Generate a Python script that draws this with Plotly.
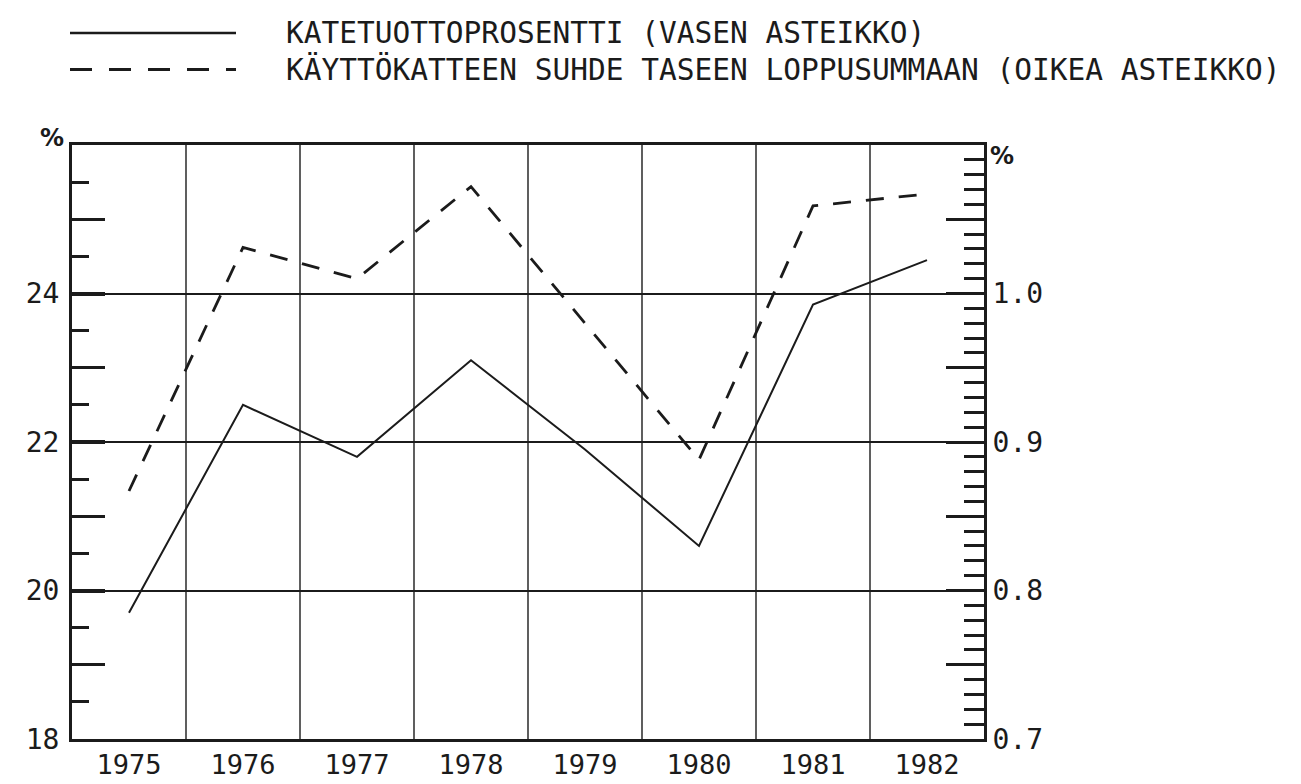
import plotly.graph_objects as go

# ---- data ----
years = ["1975", "1976", "1977", "1978", "1979", "1980", "1981", "1982"]
katetuottoprosentti = [19.7, 22.5, 21.8, 23.1, 21.9, 20.6, 23.85, 24.45]      # left scale, %
kayttokate_suhde = [0.867, 1.031, 1.010, 1.072, 0.980, 0.888, 1.059, 1.067]   # right scale, %
left_ticks = [18, 20, 22, 24]
left_tick_text = ["18", "20", "22", "24"]
left_odd_ticks = [19, 21, 23, 25]
right_ticks = [0.7, 0.8, 0.9, 1.0]
right_tick_text = ["0.7", "0.8", "0.9", "1.0"]
right_half_ticks = [0.75, 0.85, 0.95, 1.05]
legend_labels = [
    "KATETUOTTOPROSENTTI (VASEN ASTEIKKO)",
    "KÄYTTÖKATTEEN SUHDE TASEEN LOPPUSUMMAAN (OIKEA ASTEIKKO)",
]
unit_label = "%"

# ---- layout geometry (pixels) ----
W, H = 1301, 784
L, R, T, B = 64, 976, 137, 742
FONT = "DejaVu Sans Mono"
INK = "#1b1b1b"
DASH = "18px,15px"


def px(xp):
    return (xp - L) / (R - L)


def py(yp):
    return (B - yp) / (B - T)


xs = list(range(len(years)))

fig = go.Figure()
fig.add_trace(go.Scatter(x=xs, y=katetuottoprosentti, mode="lines", yaxis="y",
                         line=dict(color=INK, width=2), showlegend=False, hoverinfo="skip"))
fig.add_trace(go.Scatter(x=xs, y=kayttokate_suhde, mode="lines", yaxis="y2",
                         line=dict(color=INK, width=2.8, dash=DASH), showlegend=False, hoverinfo="skip"))
# invisible carrier for the odd-integer tick axis
fig.add_trace(go.Scatter(x=xs, y=katetuottoprosentti, mode="lines", yaxis="y3",
                         line=dict(color="rgba(0,0,0,0)", width=0), showlegend=False, hoverinfo="skip"))

# vertical grid lines at the category boundaries
for i in range(len(years) - 1):
    fig.add_shape(type="line", xref="x", yref="paper", x0=i + 0.5, x1=i + 0.5, y0=0, y1=1,
                  line=dict(color=INK, width=1.4), layer="below")

# right axis tick set
r_vals = right_ticks + right_half_ticks + [1.1]
r_text = right_tick_text + [""] * len(right_half_ticks) + [""]

tickfont = dict(family=FONT, size=28, color=INK)

fig.update_layout(
    width=W, height=H,
    margin=dict(l=L, r=W - R, t=T, b=H - B),
    paper_bgcolor="white", plot_bgcolor="white",
    showlegend=False,
    xaxis=dict(range=[-0.5, len(years) - 0.5], tickmode="array", tickvals=xs, ticktext=years,
               showgrid=False, zeroline=False, showline=True, linewidth=3, linecolor=INK,
               mirror=True, ticks="", tickfont=dict(family=FONT, size=27, color=INK),
               ticklabelstandoff=0),
    yaxis=dict(range=[18, 26], tickmode="array", tickvals=left_ticks, ticktext=left_tick_text,
               showgrid=True, gridcolor=INK, gridwidth=1.8, zeroline=False,
               showline=True, linewidth=3, linecolor=INK,
               ticks="inside", ticklen=33, tickwidth=3.5, tickcolor=INK,
               minor=dict(dtick=0.5, tick0=18, ticks="inside", ticklen=17, tickwidth=3,
                          tickcolor=INK, showgrid=False),
               tickfont=tickfont, ticklabelstandoff=4),
    yaxis3=dict(range=[18, 26], overlaying="y", side="left", tickmode="array",
                tickvals=left_odd_ticks, showticklabels=False, showgrid=False, zeroline=False,
                showline=False, ticks="inside", ticklen=33, tickwidth=3, tickcolor=INK),
    yaxis2=dict(range=[0.7, 1.1], overlaying="y", side="right", tickmode="array",
                tickvals=r_vals, ticktext=r_text, showgrid=False, zeroline=False,
                showline=True, linewidth=3, linecolor=INK,
                ticks="inside", ticklen=38, tickwidth=3, tickcolor=INK,
                minor=dict(dtick=0.01, tick0=0.7, ticks="inside", ticklen=20, tickwidth=2.6,
                           tickcolor=INK, showgrid=False),
                tickfont=tickfont, ticklabelstandoff=0),
)

# legend drawn as a key above the chart
fig.add_shape(type="line", xref="paper", yref="paper", x0=px(62), x1=px(228), y0=py(23), y1=py(23),
              line=dict(color=INK, width=2.4))
fig.add_shape(type="line", xref="paper", yref="paper", x0=px(62), x1=px(228), y0=py(60), y1=py(60),
              line=dict(color=INK, width=3, dash="22px,17px"))
for label, ycen in zip(legend_labels, [23, 60]):
    fig.add_annotation(text=label, xref="paper", yref="paper", x=px(277), y=py(ycen),
                       xanchor="left", yanchor="middle", showarrow=False, borderpad=0,
                       font=dict(family=FONT, size=29.5, color=INK))

# unit labels
pct_font = dict(family="DejaVu Sans", size=24, color=INK, weight="bold")
fig.add_annotation(text=unit_label, xref="paper", yref="paper", x=px(44), y=py(130),
                   xanchor="center", yanchor="middle", showarrow=False, font=pct_font)
fig.add_annotation(text=unit_label, xref="paper", yref="paper", x=px(994), y=py(148),
                   xanchor="center", yanchor="middle", showarrow=False, font=pct_font)

fig.write_html("out.html")
